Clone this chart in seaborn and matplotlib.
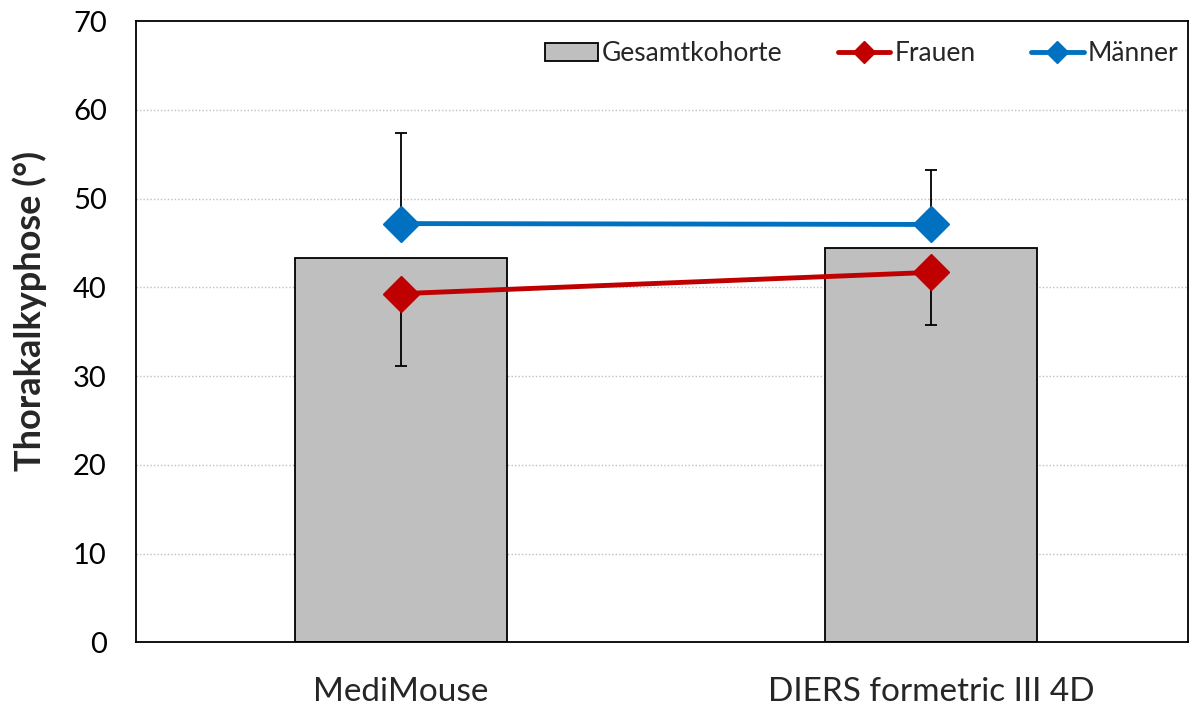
import matplotlib
matplotlib.use("Agg")
import matplotlib.pyplot as plt
import seaborn as sns
import pandas as pd
from matplotlib.patches import Patch
from matplotlib.lines import Line2D

categories = ["MediMouse", "DIERS formetric III 4D"]
gesamt = [43.3, 44.4]
frauen = [39.3, 41.7]
frauen_sd = [8.1, 5.9]
maenner = [47.2, 47.1]
maenner_sd = [10.2, 6.1]
yticks = [0, 10, 20, 30, 40, 50, 60, 70]

sns.set_theme(style="white")
plt.rcParams["font.family"] = ["Lato", "DejaVu Sans"]

fig = plt.figure(figsize=(11.98, 7.09), dpi=100)
ax = fig.add_axes([0.1135, 0.094, 0.8785, 0.876])

df = pd.DataFrame({"cat": categories, "val": gesamt})
sns.barplot(data=df, x="cat", y="val", ax=ax, color="#BFBFBF", width=0.4,
            edgecolor="black", linewidth=1.3, saturation=1, zorder=2)
for p in ax.patches:
    p.set_facecolor("#BFBFBF")

xs = list(range(len(categories)))
red = "#C00000"
blue = "#0070C0"
ax.errorbar(xs, frauen, yerr=[frauen_sd, [0] * len(frauen)], fmt="none",
            ecolor="black", elinewidth=1.3, capsize=4.5, capthick=1.3, zorder=3)
ax.errorbar(xs, maenner, yerr=[[0] * len(maenner), maenner_sd], fmt="none",
            ecolor="black", elinewidth=1.3, capsize=4.5, capthick=1.3, zorder=3)
ax.plot(xs, frauen, color=red, lw=3.5, marker="D", ms=18, zorder=4)
ax.plot(xs, maenner, color=blue, lw=3.5, marker="D", ms=18, zorder=4)

ax.set_xlim(-0.5, 1.485)
ax.set_ylim(0, 70)
ax.set_yticks(yticks)
ax.set_yticklabels([str(t) for t in yticks], fontsize=21)
ax.set_xticks([0.5])
ax.set_xticklabels([""])
ax.tick_params(axis="x", direction="in", length=8, width=1.2, colors="black")
ax.tick_params(axis="y", direction="in", length=5, width=1.2, colors="black", pad=21)
for i, c in enumerate(categories):
    ax.text(i, -3.9, c, ha="center", va="top", fontsize=24)

ax.set_xlabel("")
ax.set_ylabel("Thorakalkyphose (°)", fontsize=26, fontweight="bold")
ax.yaxis.set_label_coords(-0.085, 0.533)
for y in yticks[1:-1]:
    ax.axhline(y, color="#BFBFBF", lw=1, ls=(0, (1, 1.5)), zorder=0)
for s in ax.spines.values():
    s.set_color("black")
    s.set_linewidth(1.3)
    s.set_visible(True)

handles = [
    Patch(facecolor="#BFBFBF", edgecolor="black", linewidth=1.3, label="Gesamtkohorte"),
    Line2D([0], [0], color=red, lw=3.5, marker="D", ms=11, label="Frauen"),
    Line2D([0], [0], color=blue, lw=3.5, marker="D", ms=11, label="Männer"),
]
ax.legend(handles=handles, loc="upper right", ncol=3, frameon=False, fontsize=19,
          handlelength=2.0, handletextpad=0.15, columnspacing=2.1,
          bbox_to_anchor=(1.013, 1.0065))

fig.savefig("out.png", dpi=100)
